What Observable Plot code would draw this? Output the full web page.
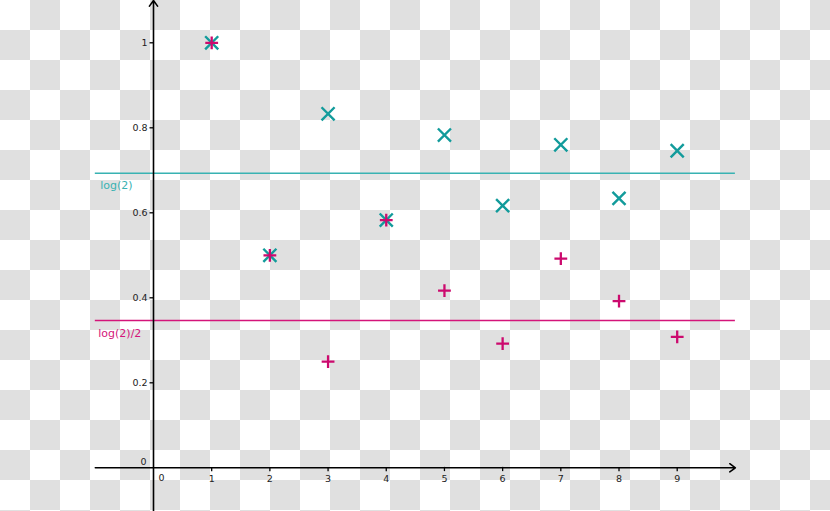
<!DOCTYPE html>
<html>
<head>
<meta charset="utf-8">
<script src="https://cdn.jsdelivr.net/npm/d3@7"></script>
<script src="https://cdn.jsdelivr.net/npm/@observablehq/plot@0.6"></script>
<style>
  html, body { margin: 0; padding: 0; }
  body {
    width: 830px; height: 511px; overflow: hidden;
    background: repeating-conic-gradient(#e0e0e0 0 25%, #ffffff 0 50%) 0 0 / 60px 60px;
  }
  #chart svg { display: block; }
</style>
</head>
<body>
<div id="chart"></div>
<script>
// index n of the partial sum
const n = [1, 2, 3, 4, 5, 6, 7, 8, 9];
// partial sums of the alternating harmonic series (teal ×)
const seriesTimes = [1, 0.5, 0.833, 0.583, 0.783, 0.617, 0.760, 0.634, 0.746];
// partial sums of the rearranged series (magenta +)
const seriesPlus = [1, 0.5, 0.25, 0.583, 0.417, 0.292, 0.492, 0.392, 0.308];
// reference levels
const levels = [Math.log(2), Math.log(2) / 2];
const levelLabels = ["log(2)", "log(2)/2"];
// tick values and labels
const xTicks = [1, 2, 3, 4, 5, 6, 7, 8, 9];
const xTickLabels = ["1", "2", "3", "4", "5", "6", "7", "8", "9"];
const yTicks = [0.2, 0.4, 0.6, 0.8, 1];
const yTickLabels = ["0.2", "0.4", "0.6", "0.8", "1"];
// axis extents (data units)
const xAxisExtent = [-1, 10];
const yAxisExtent = [-0.103, 1.0995];

const teal = "#129b9b", tealLight = "#38b2b2";
const magenta = "#cc0a6e", magentaLight = "#d4147a";

const ptsTimes = n.map((k, i) => ({x: k, y: seriesTimes[i]}));
const ptsPlus = n.map((k, i) => ({x: k, y: seriesPlus[i]}));

const chart = Plot.plot({
  width: 830,
  height: 511,
  margin: 0,
  style: {background: "transparent", fontFamily: "DejaVu Sans", overflow: "visible"},
  x: {domain: [0, 9], range: [153, 676.7], axis: null},
  y: {domain: [0, 1], range: [467.3, 42.3], axis: null},
  marks: [
    // reference lines
    Plot.ruleY([levels[0]], {x1: xAxisExtent[0], x2: xAxisExtent[1], stroke: tealLight, strokeWidth: 1.4}),
    Plot.ruleY([levels[1]], {x1: xAxisExtent[0], x2: xAxisExtent[1], stroke: magentaLight, strokeWidth: 1.4}),
    Plot.text([levelLabels[0]], {x: xAxisExtent[0], y: levels[0], textAnchor: "start", dx: 5, dy: 12, fontSize: 11, fill: tealLight}),
    Plot.text([levelLabels[1]], {x: xAxisExtent[0], y: levels[1], textAnchor: "start", dx: 3, dy: 12.6, fontSize: 11, fill: magentaLight}),
    // axes with arrows
    Plot.arrow([{x1: xAxisExtent[0], x2: xAxisExtent[1], y1: 0, y2: 0}], {x1: "x1", y1: "y1", x2: "x2", y2: "y2", stroke: "black", strokeWidth: 1.6, headLength: 6.5, headAngle: 72}),
    Plot.arrow([{x1: 0, x2: 0, y1: yAxisExtent[0], y2: yAxisExtent[1]}], {x1: "x1", y1: "y1", x2: "x2", y2: "y2", stroke: "black", strokeWidth: 1.6, headLength: 6.5, headAngle: 72}),
    // ticks
    Plot.ruleY(yTicks, {x1: -0.06, x2: 0.01, stroke: "black", strokeWidth: 1.3}),
    Plot.ruleX(xTicks, {y1: -0.009, y2: 0.001, stroke: "black", strokeWidth: 1.3}),
    // tick labels
    Plot.text(yTicks, {x: 0, y: d => d, text: (d, i) => yTickLabels[i], textAnchor: "end", dx: -6, fontSize: 9.5, fill: "#222"}),
    Plot.text(xTicks, {x: d => d, y: 0, text: (d, i) => xTickLabels[i], textAnchor: "middle", dy: 11, fontSize: 9.5, fill: "#222"}),
    Plot.text(["0"], {x: 0, y: 0, textAnchor: "middle", dx: 8, dy: 10, fontSize: 9.5, fill: "#222"}),
    Plot.text(["0"], {x: 0, y: 0, textAnchor: "end", dx: -7, dy: -6, fontSize: 9.5, fill: "#222"}),
    // data points
    Plot.dot(ptsTimes, {x: "x", y: "y", symbol: "times", r: 6, stroke: teal, strokeWidth: 2.4}),
    Plot.dot(ptsPlus, {x: "x", y: "y", symbol: "plus", r: 4.2, stroke: magenta, strokeWidth: 2.3})
  ]
});
document.getElementById("chart").appendChild(chart);
</script>
</body>
</html>
